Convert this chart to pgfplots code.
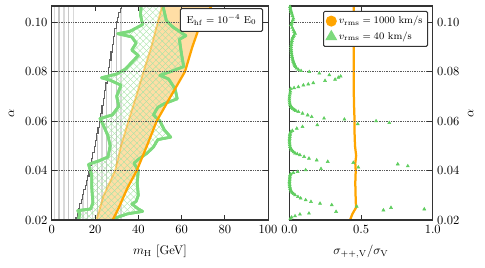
\documentclass[border=0pt]{standalone}
\usepackage{pgfplots}
\pgfplotsset{compat=1.18}
\usetikzlibrary{patterns.meta}
\definecolor{lgreen}{RGB}{125,218,125}
\definecolor{hgreen}{RGB}{165,228,165}
\definecolor{mgreen}{RGB}{95,205,95}
\definecolor{morange}{RGB}{255,165,0}
\definecolor{forange}{RGB}{255,222,165}
\begin{document}
\begin{tikzpicture}
\pgfplotsset{every axis/.append style={
  scale only axis, height=171.2pt, ymin=0.02, ymax=0.1065,
  ytick={0.02,0.04,0.06,0.08,0.10},
  ymajorgrids, grid style={densely dotted, gray!70!black, line width=0.5pt},
  tick align=inside, axis on top,
  axis line style={black!80, line width=0.9pt},
  major tick style={black!80, line width=0.6pt},
  yticklabel style={/pgf/number format/fixed, /pgf/number format/fixed zerofill, /pgf/number format/precision=2},
  xlabel style={yshift=-2pt}, xticklabel style={yshift=-1pt},
}}
% ---------------- left panel ----------------
\begin{axis}[name=leftax, at={(0,0)}, anchor=south west, width=173pt,
  xmin=0, xmax=100, xtick={0,20,40,60,80,100},
  xlabel={$m_{\mathrm{H}}$ [GeV]}, ylabel={$\alpha$}, ylabel style={yshift=2pt}]
\addplot[ycomb, gray!30, line width=1.1pt, no markers] coordinates {
 (1.2,0.2)(5.6,0.2)(10.0,0.2)(14.4,0.0300)(18.8,0.0451)(23.2,0.0646)(27.6,0.0874)(32.0,0.1057)};
\addplot[ycomb, gray!45, line width=1.1pt, no markers] coordinates {
 (3.4,0.2)(7.8,0.2)(12.2,0.0231)(16.6,0.0369)(21.0,0.0545)(25.4,0.0759)(29.8,0.0989)};
\addplot[const plot, black!62, line width=0.9pt, no markers] coordinates {
 (11.0,0.015)(11.2,0.0209)(11.8,0.0228)(12.4,0.0247)(13.0,0.0266)(13.6,0.0284)(14.2,0.0303)
 (14.8,0.0322)(15.4,0.0341)(16.0,0.0359)(16.6,0.0378)(17.2,0.0397)(17.8,0.0419)(18.4,0.0447)
 (19.0,0.0472)(19.6,0.0498)(20.2,0.0523)(20.8,0.0549)(21.4,0.0574)(22.0,0.0600)(22.6,0.0631)
 (23.2,0.0662)(23.8,0.0692)(24.4,0.0723)(25.0,0.0754)(25.6,0.0785)(26.2,0.0816)(26.8,0.0847)
 (27.4,0.0879)(28.0,0.0911)(28.6,0.0942)(29.2,0.0974)(29.8,0.1003)(30.4,0.1020)(31.0,0.1037)
 (31.6,0.1054)(32.2,0.1071)(32.8,0.1090)};
% orange band
\addplot[draw=none, fill=forange] coordinates {
 (20,0.018)(24,0.03)(29.3,0.04)(32,0.05)(35.4,0.06)(39,0.07)(42.4,0.08)(46,0.09)(49,0.10)(51.5,0.108)
 (75,0.108)(69,0.10)(65,0.09)(61.6,0.08)(55,0.07)(48.5,0.06)(44,0.05)(39.3,0.04)(35,0.033)(31,0.025)(27,0.018)} -- cycle;
% green hatched region
\addplot[draw=lgreen, line width=2.2pt, line join=round,
  pattern={Lines[angle=45,distance=3.6pt,line width=0.3pt]}, pattern color=hgreen,
  postaction={pattern={Lines[angle=-45,distance=3.6pt,line width=0.3pt]}, pattern color=hgreen}]
 coordinates {
 (41.5,0.108)(51,0.108)(53,0.1005)(56,0.098)(62,0.0945)(59,0.093)(60,0.087)(61,0.082)(55,0.080)
 (50,0.0785)(54,0.077)(57,0.073)(58,0.069)(52,0.067)(49,0.0655)(47,0.0625)(50,0.060)(52,0.0565)
 (55,0.0535)(49,0.0525)(47,0.0495)(44,0.047)(40,0.0445)(38,0.043)(40,0.040)(39.5,0.035)(40,0.030)
 (39,0.0275)(37,0.0265)(40,0.0245)(42,0.0235)(35,0.0225)(30,0.021)(26,0.019)(12,0.019)(13,0.0225)
 (12,0.0238)(18,0.0245)(19,0.027)(18.5,0.033)(18.5,0.038)(17,0.0425)(22,0.044)(26,0.0455)(27,0.050)
 (26,0.054)(24,0.058)(22.3,0.061)(28,0.0625)(31,0.066)(30,0.070)(32,0.0745)(27,0.0765)(23,0.0775)
 (30,0.079)(34,0.081)(40,0.0865)(37,0.0887)(39,0.0915)(37,0.094)(30.5,0.0953)(36,0.0962)(42,0.099)
 (41,0.103)} -- cycle;
% orange edges
\addplot[morange, opacity=0.45, line width=1.5pt, no markers] coordinates {
 (20,0.018)(24,0.03)(29.3,0.04)(32,0.05)(35.4,0.06)(39,0.07)(42.4,0.08)(46,0.09)(49,0.10)(51.5,0.108)};
\addplot[morange, line width=1.8pt, no markers] coordinates {
 (27,0.018)(31,0.025)(35,0.033)(39.3,0.04)(44,0.05)(48.5,0.06)(55,0.07)(61.6,0.08)(65,0.09)(69,0.10)(75,0.108)};
\end{axis}
\node[draw=black!80, fill=white, line width=0.8pt, rounded corners=1pt, anchor=north east,
  font=\footnotesize, inner sep=5pt] at ([xshift=-4pt,yshift=-1.7pt]leftax.north east)
  {$\mathrm{E_{hf}} = 10^{-4}\ \mathrm{E_0}$};
% ---------------- right panel ----------------
\begin{axis}[at={(190pt,0)}, anchor=south west, width=114.7pt,
  xmin=0, xmax=1, xtick={0,0.5,1},
  xticklabel style={/pgf/number format/fixed, /pgf/number format/fixed zerofill, /pgf/number format/precision=1},
  yticklabel pos=right, ylabel={$\alpha$},
  xlabel={$\sigma_{++,\mathrm{V}}/\sigma_{\mathrm{V}}$},
  legend style={at={(0.967,0.977)}, anchor=north east, font=\footnotesize,
    draw=black!80, line width=0.8pt, rounded corners=1pt, cells={anchor=west},
    inner sep=2pt, row sep=1pt}]
\addlegendimage{only marks, mark=*, mark size=4pt, color=morange}
\addlegendentry{$v_{\mathrm{rms}} = 1000$ km/s}
\addlegendimage{only marks, mark=triangle*, mark size=4.8pt, color=lgreen}
\addlegendentry{$v_{\mathrm{rms}} = 40$ km/s}
\addplot[morange, line width=1.8pt, no markers, forget plot] coordinates {
 (0.42,0.0195)(0.44,0.0225)(0.465,0.0250)(0.462,0.030)(0.460,0.035)(0.463,0.040)(0.460,0.043)
 (0.466,0.046)(0.458,0.050)(0.455,0.055)(0.455,0.060)(0.452,0.065)(0.450,0.070)(0.450,0.080)
 (0.450,0.090)(0.450,0.100)(0.450,0.108)};
\addplot[only marks, mark=triangle*, mark size=1.4pt, color=mgreen, forget plot] coordinates {
 (0.007,0.0206)(0.016,0.0211)(0.040,0.0216)(0.074,0.0223)(0.137,0.0227)(0.326,0.0234)(0.656,0.0240)
 (0.941,0.0244)(0.709,0.0250)(0.470,0.0255)(0.296,0.0261)(0.214,0.0267)(0.151,0.0274)(0.114,0.0281)
 (0.079,0.0288)(0.060,0.0294)(0.040,0.0301)(0.030,0.0306)(0.021,0.0310)(0.014,0.0315)(0.010,0.0320)
 (0.006,0.0328)(0.003,0.0335)(0.002,0.0342)(0.001,0.0349)(0.001,0.0355)(0.002,0.0362)(0.003,0.0369)
 (0.004,0.0376)(0.005,0.0382)(0.010,0.0386)(0.028,0.0391)(0.058,0.0395)(0.114,0.0402)(0.221,0.0407)
 (0.481,0.0413)(0.826,0.0418)(0.756,0.0426)(0.446,0.0432)(0.268,0.0436)(0.191,0.0442)(0.137,0.0449)
 (0.103,0.0456)(0.074,0.0463)(0.055,0.0467)(0.040,0.0470)(0.030,0.0475)(0.021,0.0480)(0.014,0.0485)
 (0.009,0.0490)(0.005,0.0496)(0.003,0.0503)(0.002,0.0510)(0.001,0.0517)(0.001,0.0523)(0.002,0.0530)
 (0.003,0.0537)(0.004,0.0544)(0.005,0.0550)(0.010,0.0556)(0.021,0.0561)(0.052,0.0570)(0.092,0.0577)
 (0.195,0.0584)(0.477,0.0588)(0.697,0.0593)(0.605,0.0600)(0.384,0.0607)(0.242,0.0611)(0.156,0.0617)
 (0.128,0.0624)(0.092,0.0631)(0.063,0.0638)(0.045,0.0642)(0.035,0.0645)(0.025,0.0650)(0.018,0.0654)
 (0.012,0.0658)(0.006,0.0665)(0.003,0.0672)(0.001,0.0680)(0.000,0.0688)(0.001,0.0696)(0.002,0.0704)
 (0.005,0.0712)(0.007,0.0720)(0.009,0.0731)(0.033,0.0734)(0.063,0.0738)(0.098,0.0745)(0.132,0.0749)
 (0.167,0.0754)(0.249,0.0763)(0.319,0.0768)(0.342,0.0776)(0.358,0.0781)(0.279,0.0786)(0.209,0.0793)
 (0.139,0.0799)(0.082,0.0803)(0.063,0.0808)(0.050,0.0813)(0.044,0.0819)(0.040,0.0824)(0.036,0.0829)
 (0.032,0.0834)(0.028,0.0840)(0.025,0.0846)(0.022,0.0853)(0.019,0.0860)(0.017,0.0867)(0.015,0.0875)
 (0.014,0.0883)(0.013,0.0891)(0.012,0.0900)(0.014,0.0908)(0.016,0.0917)(0.018,0.0925)(0.021,0.0934)
 (0.026,0.0940)(0.032,0.0946)(0.040,0.0954)(0.034,0.0961)(0.028,0.0968)(0.020,0.0978)(0.012,0.0988)
 (0.016,0.0994)(0.020,0.1000)(0.025,0.1008)(0.028,0.1015)(0.022,0.1025)(0.017,0.1035)(0.013,0.1042)
 (0.010,0.1048)(0.007,0.1055)(0.005,0.1062)};
\end{axis}
\pgfresetboundingbox
\useasboundingbox (-41.4pt,-37.6pt) rectangle (346.5pt,176pt);
\end{tikzpicture}
\end{document}
